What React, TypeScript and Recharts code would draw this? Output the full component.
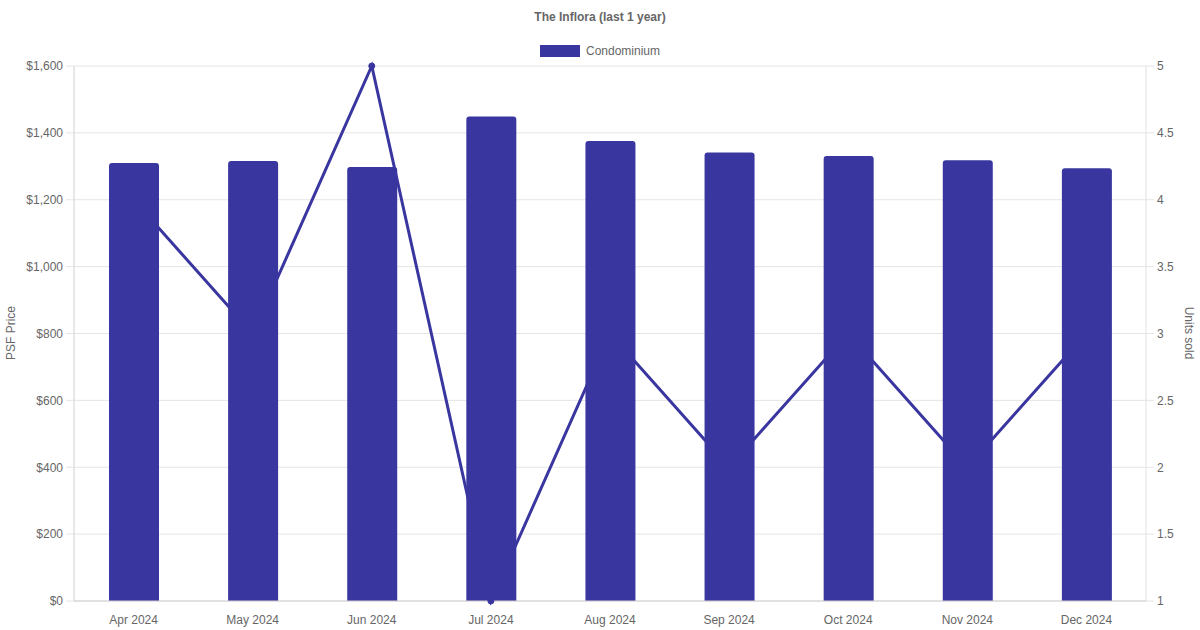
import React from "react";
import {
  ComposedChart,
  Bar,
  Line,
  XAxis,
  YAxis,
  CartesianGrid,
} from "recharts";

const months = [
  "Apr 2024",
  "May 2024",
  "Jun 2024",
  "Jul 2024",
  "Aug 2024",
  "Sep 2024",
  "Oct 2024",
  "Nov 2024",
  "Dec 2024",
];
const psfPrice = [1310, 1316, 1298, 1449, 1376, 1341, 1331, 1318, 1294];
const unitsSold = [4, 3, 5, 1, 3, 2, 3, 2, 3];
const priceTicks = [0, 200, 400, 600, 800, 1000, 1200, 1400, 1600];
const unitTicks = [1, 1.5, 2, 2.5, 3, 3.5, 4, 4.5, 5];

const data = months.map((m, i) => ({
  month: m,
  psf: psfPrice[i],
  units: unitsSold[i],
}));

const COLOR = "#3a36a0";
const FONT = "'Liberation Sans', Arial, Helvetica, sans-serif";
const tickStyle = { fill: "#666", fontSize: 12, fontFamily: FONT };

const App = () => {
  return (
    <div
      style={{
        position: "absolute",
        left: 0,
        top: 0,
        width: 1200,
        height: 630,
        background: "#fff",
      }}
    >
      <div
        style={{
          position: "absolute",
          top: 10,
          width: 1200,
          textAlign: "center",
          fontFamily: FONT,
          fontSize: 12,
          fontWeight: "bold",
          color: "#666",
        }}
      >
        The Inflora (last 1 year)
      </div>
      {/* legend */}
      <div
        style={{
          position: "absolute",
          top: 44,
          width: 1200,
          display: "flex",
          justifyContent: "center",
          alignItems: "center",
          fontFamily: FONT,
          fontSize: 12,
          color: "#666",
        }}
      >
        <span
          style={{
            display: "inline-block",
            width: 40,
            height: 12,
            background: COLOR,
            marginRight: 6,
          }}
        />
        Condominium
      </div>
      <div
        style={{
          position: "absolute",
          left: 11,
          top: 333,
          transform: "translate(-50%, -50%) rotate(-90deg)",
          fontFamily: FONT,
          fontSize: 12,
          color: "#666",
          whiteSpace: "nowrap",
        }}
      >
        PSF Price
      </div>
      <div
        style={{
          position: "absolute",
          left: 1189,
          top: 333,
          transform: "translate(-50%, -50%) rotate(90deg)",
          fontFamily: FONT,
          fontSize: 12,
          color: "#666",
          whiteSpace: "nowrap",
        }}
      >
        Units sold
      </div>
      <ComposedChart
        width={1200}
        height={630}
        data={data}
        margin={{ top: 66, right: 0, bottom: 0, left: 0 }}
      >
        <CartesianGrid
          vertical={false}
          stroke="#e5e5e5"
          yAxisId="left"
        />
        <XAxis
          dataKey="month"
          height={29}
          tick={tickStyle}
          tickLine={false}
          axisLine={{ stroke: "#d0d0d0" }}
          tickMargin={8}
          interval={0}
        />
        <YAxis
          yAxisId="left"
          width={74}
          domain={[0, 1600]}
          ticks={priceTicks}
          tick={tickStyle}
          tickSize={8}
          tickMargin={3}
          tickLine={{ stroke: "#e5e5e5" }}
          axisLine={{ stroke: "#d0d0d0" }}
          tickFormatter={(v: number) => "$" + v.toLocaleString("en-US")}
        />
        <YAxis
          yAxisId="right"
          orientation="right"
          width={54}
          domain={[1, 5]}
          ticks={unitTicks}
          tick={tickStyle}
          tickSize={8}
          tickMargin={3}
          tickLine={{ stroke: "#e5e5e5" }}
          axisLine={{ stroke: "#e0e0e0" }}
        />
        <Line
          yAxisId="right"
          dataKey="units"
          type="linear"
          stroke={COLOR}
          strokeWidth={3}
          dot={{ r: 3, fill: COLOR, stroke: COLOR, strokeWidth: 1 }}
          isAnimationActive={false}
        />
        <Bar
          yAxisId="left"
          dataKey="psf"
          fill={COLOR}
          barSize={50}
          radius={[3, 3, 0, 0]}
          isAnimationActive={false}
        />
      </ComposedChart>
    </div>
  );
};

export default App;
